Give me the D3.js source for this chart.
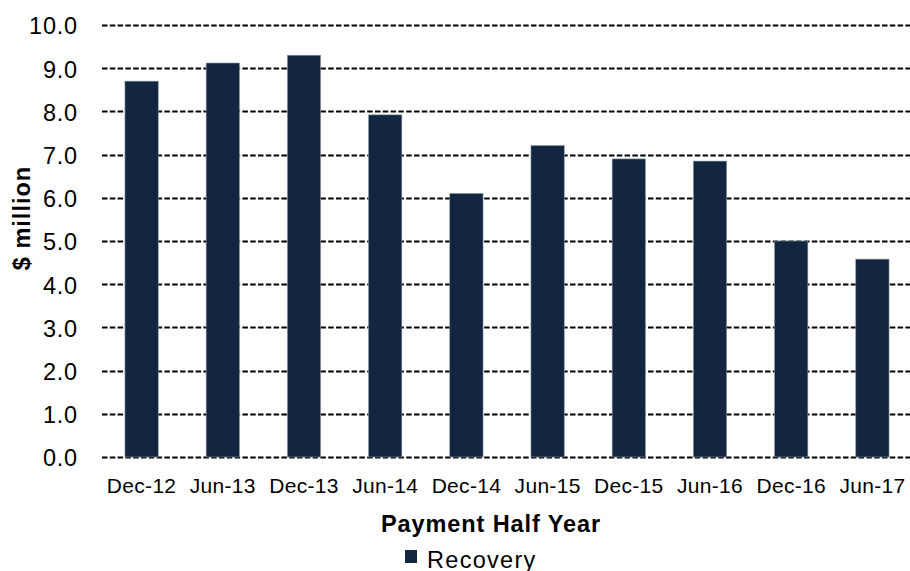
<!DOCTYPE html>
<html>
<head>
<meta charset="utf-8">
<script src="https://cdn.jsdelivr.net/npm/d3@7/dist/d3.min.js"></script>
<style>
  html, body { margin: 0; padding: 0; background: #fff; }
  svg { display: block; font-family: "Liberation Sans", Arial, sans-serif; }
</style>
</head>
<body>
<svg id="chart" width="910" height="571"></svg>
<script>
// Half-year recovery payments, $ million
const periods = ["Dec-12", "Jun-13", "Dec-13", "Jun-14", "Dec-14", "Jun-15", "Dec-15", "Jun-16", "Dec-16", "Jun-17"];
const recovery = [8.70, 9.12, 9.30, 7.92, 6.10, 7.21, 6.90, 6.85, 5.00, 4.58];
const yTicks = [0, 1, 2, 3, 4, 5, 6, 7, 8, 9, 10];
const seriesName = "Recovery";

const barColor = "#13263f";
const fontFamily = "Liberation Sans, Arial, sans-serif";
const svg = d3.select("#chart");

const margin = { left: 101, right: -3, top: 25, bottom: 114 };
const W = 910, H = 571;

const x = d3.scaleBand()
  .domain(periods)
  .range([margin.left, W - margin.right])
  .paddingInner(0.59)
  .paddingOuter(0.295);

const y = d3.scaleLinear()
  .domain([0, 10])
  .range([H - margin.bottom, margin.top]);

// Dashed gridlines
svg.append("g")
  .selectAll("line")
  .data(yTicks)
  .join("line")
  .attr("x1", margin.left + 1)
  .attr("x2", W)
  .attr("y1", d => Math.round(y(d)) + 0.5)
  .attr("y2", d => Math.round(y(d)) + 0.5)
  .attr("stroke", "#000")
  .attr("stroke-width", 2)
  .attr("stroke-dasharray", "5.5,2.3");

// Bars
svg.append("g")
  .selectAll("rect")
  .data(recovery)
  .join("rect")
  .attr("x", (d, i) => x(periods[i]))
  .attr("y", d => y(d))
  .attr("width", x.bandwidth())
  .attr("height", d => y(0) - y(d))
  .attr("fill", barColor)
  .attr("stroke", "#8a96a6")
  .attr("stroke-width", 0.6);

// Y axis (labels only)
const yAxis = d3.axisLeft(y)
  .tickValues(yTicks)
  .tickFormat(d3.format(".1f"))
  .tickSize(0)
  .tickPadding(0);
const gy = svg.append("g")
  .attr("transform", `translate(${margin.left - 23},0)`)
  .call(yAxis);
gy.select(".domain").remove();
gy.selectAll("text")
  .attr("font-size", 23.5)
  .attr("letter-spacing", 0.8)
  .attr("dy", "0.38em")
  .attr("fill", "#000")
  .attr("font-family", fontFamily);

// X axis (labels only)
const xAxis = d3.axisBottom(x).tickSize(0).tickPadding(0);
const gx = svg.append("g")
  .attr("transform", `translate(0,${y(0)})`)
  .call(xAxis);
gx.select(".domain").remove();
gx.selectAll("text")
  .attr("y", 36)
  .attr("dy", 0)
  .attr("font-size", 21)
  .attr("letter-spacing", 0.3)
  .attr("fill", "#000")
  .attr("font-family", fontFamily);

// Axis titles
svg.append("text")
  .attr("x", 491)
  .attr("y", 532)
  .attr("text-anchor", "middle")
  .attr("font-size", 23.5)
  .attr("font-weight", "bold")
  .attr("letter-spacing", 0.9)
  .text("Payment Half Year");

svg.append("text")
  .attr("transform", "translate(30,218) rotate(-90)")
  .attr("text-anchor", "middle")
  .attr("font-size", 23.5)
  .attr("font-weight", "bold")
  .attr("letter-spacing", 1)
  .text("$ million");

// Legend
const legend = svg.append("g").attr("transform", "translate(405,550)");
legend.append("rect")
  .attr("width", 12)
  .attr("height", 13)
  .attr("fill", barColor);
legend.append("text")
  .attr("x", 22)
  .attr("y", 18)
  .attr("font-size", 23.5)
  .attr("letter-spacing", 1.3)
  .text(seriesName);
</script>
</body>
</html>
